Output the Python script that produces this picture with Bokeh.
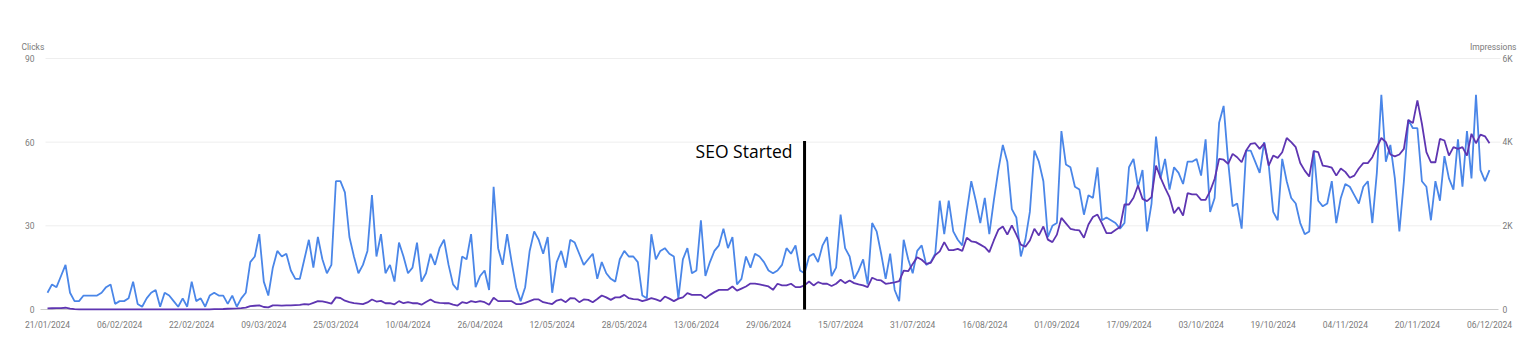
import pandas as pd
from bokeh.plotting import figure
from bokeh.models import Range1d, FixedTicker
from bokeh.embed import file_html
from bokeh.resources import INLINE
from bokeh.core.properties import value

start_date = "2024-01-21"
end_date = "2024-12-06"

# daily clicks (left axis)
clicks = [
    6, 9, 8, 12, 16, 6, 3, 3, 5, 5,
    5, 5, 6, 8, 9, 2, 3, 3, 4, 10,
    2, 1, 4, 6, 7, 1, 6, 5, 3, 1,
    4, 1, 10, 3, 4, 1, 5, 6, 5, 5,
    2, 5, 1, 4, 6, 17, 19, 27, 10, 5,
    15, 21, 19, 20, 14, 11, 11, 18, 25, 15,
    26, 18, 13, 16, 46, 46, 42, 26, 19, 13,
    16, 21, 41, 19, 27, 13, 16, 10, 24, 19,
    13, 15, 24, 10, 13, 20, 16, 22, 25, 16,
    9, 7, 19, 18, 27, 8, 12, 14, 7, 44,
    22, 16, 27, 17, 8, 3, 8, 21, 28, 25,
    20, 26, 6, 17, 21, 15, 25, 24, 20, 16,
    18, 20, 11, 17, 13, 11, 10, 18, 21, 19,
    19, 17, 5, 4, 27, 18, 21, 22, 20, 19,
    4, 18, 22, 13, 14, 32, 12, 17, 21, 23,
    29, 22, 26, 9, 11, 19, 15, 20, 19, 17,
    14, 13, 14, 16, 22, 20, 23, 14, 13, 19,
    20, 17, 23, 26, 12, 15, 34, 22, 19, 11,
    14, 18, 9, 31, 28, 20, 11, 20, 7, 3,
    25, 18, 13, 21, 23, 16, 17, 20, 39, 27,
    39, 28, 25, 23, 35, 46, 39, 31, 40, 27,
    39, 50, 59, 53, 36, 33, 19, 25, 35, 57,
    53, 46, 26, 30, 31, 64, 52, 51, 44, 43,
    34, 41, 40, 51, 32, 33, 32, 31, 29, 31,
    51, 54, 44, 50, 28, 38, 62, 47, 54, 43,
    51, 49, 45, 53, 53, 54, 48, 61, 35, 40,
    67, 73, 53, 37, 38, 29, 57, 57, 53, 49,
    60, 52, 35, 32, 54, 46, 40, 38, 31, 27,
    28, 57, 39, 37, 38, 46, 31, 40, 45, 44,
    41, 38, 44, 46, 31, 49, 77, 53, 59, 47,
    28, 46, 68, 65, 65, 46, 44, 32, 46, 39,
    55, 47, 43, 61, 44, 64, 47, 77, 50, 46,
    50,
]

# daily impressions (right axis)
impressions = [
    25, 30, 32, 35, 42, 20, 8, 4, 3, 3,
    4, 3, 3, 4, 3, 3, 4, 3, 3, 4,
    3, 3, 4, 3, 3, 4, 5, 3, 3, 4,
    3, 3, 4, 5, 4, 3, 4, 8, 10, 12,
    18, 22, 28, 35, 45, 80, 90, 100, 60, 50,
    100, 100, 95, 100, 100, 105, 110, 130, 120, 160,
    200, 195, 170, 140, 290, 275, 210, 175, 150, 140,
    130, 170, 240, 190, 205, 150, 150, 125, 200, 150,
    175, 150, 150, 115, 180, 240, 175, 160, 150, 150,
    115, 95, 175, 150, 200, 175, 200, 175, 115, 280,
    200, 200, 200, 200, 130, 130, 160, 200, 240, 240,
    175, 150, 130, 215, 240, 175, 270, 265, 175, 240,
    230, 175, 250, 335, 290, 230, 290, 290, 350, 270,
    250, 240, 200, 230, 270, 240, 200, 310, 260, 200,
    260, 290, 390, 350, 350, 350, 270, 350, 415, 470,
    470, 470, 550, 450, 500, 550, 620, 620, 600, 575,
    550, 470, 615, 575, 575, 615, 535, 535, 575, 670,
    575, 655, 615, 615, 560, 615, 710, 630, 695, 630,
    600, 575, 535, 760, 710, 695, 615, 630, 650, 680,
    930, 915, 1090, 1250, 1190, 1090, 1115, 1300, 1390, 1610,
    1420, 1420, 1450, 1400, 1715, 1630, 1610, 1550, 1490, 1370,
    1650, 1905, 1985, 1790, 2010, 1790, 1550, 1500, 1650, 1930,
    1770, 1985, 1670, 1610, 1790, 2190, 2060, 1930, 1905, 1890,
    1715, 2030, 2210, 2270, 2060, 1825, 1825, 1900, 1970, 2510,
    2510, 2670, 2965, 2645, 2590, 2685, 3440, 3150, 2910, 2685,
    2300, 2445, 2245, 2780, 2750, 2750, 2620, 2620, 2830, 3120,
    3600, 3580, 3480, 3720, 3640, 3520, 3800, 3960, 3975, 3840,
    3975, 3440, 3680, 3625, 3760, 4100, 4000, 3880, 3500, 3320,
    3180, 3785, 3760, 3440, 3420, 3390, 3200, 3370, 3290, 3150,
    3200, 3370, 3500, 3500, 3640, 3880, 4100, 4000, 3705, 3660,
    3705, 3840, 4530, 4455, 5000, 4440, 3760, 3520, 3520, 4080,
    4040, 3680, 3880, 3840, 3880, 3680, 4200, 3975, 4180, 4140,
    3975,
]

x_tick_labels = [
    "21/01/2024", "06/02/2024", "22/02/2024", "09/03/2024", "25/03/2024",
    "10/04/2024", "26/04/2024", "12/05/2024", "28/05/2024", "13/06/2024",
    "29/06/2024", "15/07/2024", "31/07/2024", "16/08/2024", "01/09/2024",
    "17/09/2024", "03/10/2024", "19/10/2024", "04/11/2024", "20/11/2024",
    "06/12/2024",
]
clicks_ticks = [0, 30, 60, 90]
clicks_tick_labels = ["0", "30", "60", "90"]
impr_ticks = [0, 2000, 4000, 6000]
impr_tick_labels = ["0", "2K", "4K", "6K"]
clicks_title = "Clicks"
impr_title = "Impressions"

seo_date = "2024-07-07"
seo_text = "SEO Started"
seo_line_top = 60.4      # in clicks units
seo_text_y = 57.0        # in clicks units

# ---------------------------------------------------------------- layout (pixels)
W, H = 1536, 350
FRAME_L, FRAME_R, FRAME_T, FRAME_B = 18, 1527, 40, 316
DAY0_PX, DAYN_PX = 47, 1489          # where first / last day sit
ZERO_PX, TOP_PX = 309, 58            # y pixel of 0 and 90 clicks
GRID_L_PX, GRID_R_PX = 45, 1500
BASE_L_PX, BASE_R_PX = 40, 1498

start = pd.Timestamp(start_date)
dates = pd.date_range(start_date, end_date, freq="D")
assert len(dates) == len(clicks) == len(impressions), (len(dates), len(clicks), len(impressions))
day = [(d - start).days for d in dates]
last_day = day[-1]
x_ticks = [(pd.to_datetime(s, format="%d/%m/%Y") - start).days for s in x_tick_labels]
seo_day = (pd.Timestamp(seo_date) - start).days

kx = (DAYN_PX - DAY0_PX) / last_day
ky = (ZERO_PX - TOP_PX) / clicks_ticks[-1]
def px2day(px):
    return (px - DAY0_PX) / kx
def px2val(py):
    return (ZERO_PX - py) / ky

y_lo, y_hi = px2val(FRAME_B), px2val(FRAME_T)
imp_scale = impr_ticks[-1] / clicks_ticks[-1]

TEXT = "#7a7a7a"
FONT = value("Roboto")

p = figure(width=W, height=H,
           x_range=Range1d(px2day(FRAME_L), px2day(FRAME_R)),
           y_range=Range1d(y_lo, y_hi),
           y_axis_location=None,
           output_backend="svg", toolbar_location=None,
           min_border_left=FRAME_L, min_border_right=W - FRAME_R,
           min_border_top=FRAME_T, min_border_bottom=H - FRAME_B)
p.outline_line_color = None
p.background_fill_color = "white"
p.border_fill_color = "white"
p.grid.grid_line_color = None
p.xgrid.grid_line_color = None
p.ygrid.grid_line_color = None
p.extra_y_ranges = {"imp": Range1d(y_lo * imp_scale, y_hi * imp_scale)}

# x axis (labels only)
xa = p.xaxis[0]
xa.ticker = FixedTicker(ticks=x_ticks)
xa.major_label_overrides = dict(zip(x_ticks, x_tick_labels))
xa.axis_line_color = None
xa.major_tick_line_color = None
xa.minor_tick_line_color = None
xa.major_tick_out = 0
xa.major_tick_in = 0
xa.major_label_standoff = 3
xa.major_label_text_font_size = "8.5px"
xa.major_label_text_color = TEXT
xa.major_label_text_font = "Roboto"

# grid lines and baseline
grid_vals = [t for t in clicks_ticks if t != 0]
p.segment(x0=[px2day(GRID_L_PX)] * len(grid_vals), y0=grid_vals,
          x1=[px2day(GRID_R_PX)] * len(grid_vals), y1=grid_vals,
          line_color="#eeeeee", line_width=1)
p.segment(x0=[px2day(BASE_L_PX)], y0=[0], x1=[px2day(BASE_R_PX)], y1=[0],
          line_color="#cccccc", line_width=1)

# y tick labels (left: clicks, right: impressions)
p.text(x=[0] * len(clicks_ticks), y=clicks_ticks, text=clicks_tick_labels,
       x_offset=-13, text_align="right", text_baseline="middle",
       text_font=FONT, text_font_size="8.5px", text_color=TEXT)
p.text(x=[last_day] * len(impr_ticks), y=impr_ticks, text=impr_tick_labels,
       y_range_name="imp", x_offset=13, text_align="left", text_baseline="middle",
       text_font=FONT, text_font_size="8.5px", text_color=TEXT)

# axis titles
p.text(x=[0], y=[clicks_ticks[-1]], text=[clicks_title], x_offset=-26, y_offset=-12,
       text_align="left", text_baseline="middle",
       text_font=FONT, text_font_size="8.5px", text_color=TEXT)
p.text(x=[last_day], y=[clicks_ticks[-1]], text=[impr_title], x_offset=27, y_offset=-12,
       text_align="right", text_baseline="middle",
       text_font=FONT, text_font_size="8.5px", text_color=TEXT)

# series
p.line(day, clicks, line_color="#4a86e8", line_width=1.8)
p.line(day, impressions, y_range_name="imp", line_color="#5e35b1", line_width=1.8)

# SEO marker
p.segment(x0=[seo_day], y0=[0], x1=[seo_day], y1=[seo_line_top],
          line_color="black", line_width=3)
p.text(x=[seo_day], y=[seo_text_y], text=[seo_text], x_offset=-12,
       text_align="right", text_baseline="middle",
       text_font=value("Open Sans"), text_font_size="17.5px", text_color="black")

open("out.html", "w").write(file_html(p, INLINE))
